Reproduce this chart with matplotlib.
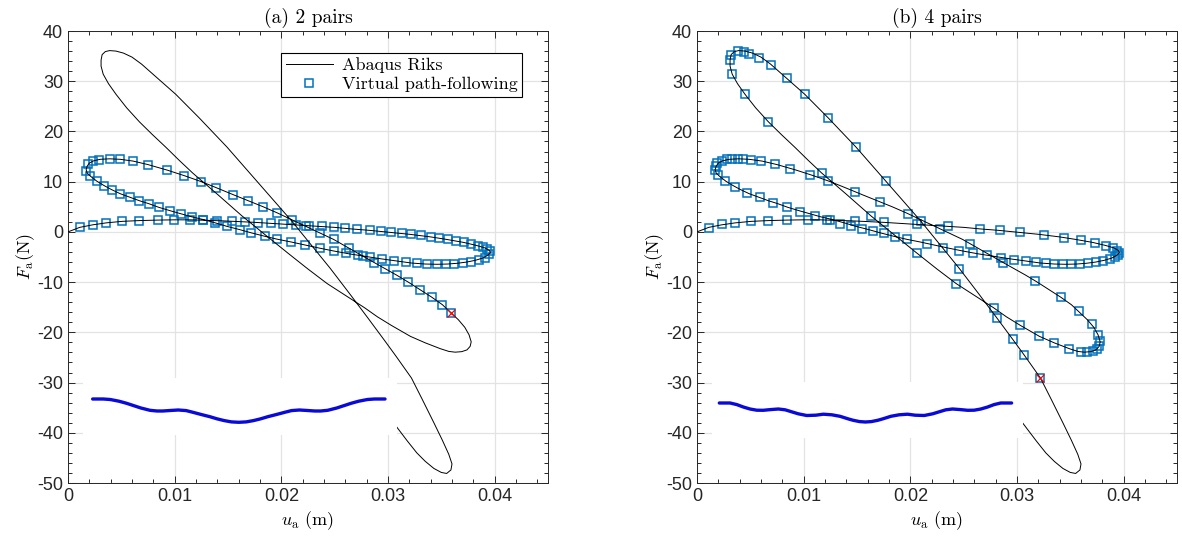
import matplotlib
matplotlib.use("Agg")
import matplotlib.pyplot as plt
from matplotlib.ticker import MultipleLocator

plt.rcParams['font.family'] = ['Liberation Sans', 'DejaVu Sans']
plt.rcParams['mathtext.fontset'] = 'cm'
plt.rcParams['axes.unicode_minus'] = False

# ---- data ----
# Abaqus Riks path (same reference curve in both panels), in path order
riks_u = [0, 0.0011, 0.0023, 0.0036, 0.0051, 0.0067, 0.0084, 0.0100, 0.0115, 0.0130, 0.0145, 0.0160,
          0.0175, 0.0190, 0.0205, 0.0220, 0.0235, 0.0250, 0.0265, 0.0283, 0.0302, 0.0321, 0.0340, 0.0355,
          0.0371, 0.0383, 0.0391, 0.0395, 0.0396, 0.0394, 0.0389, 0.0382, 0.0374, 0.0365, 0.0356, 0.0346,
          0.0335, 0.0322, 0.0308, 0.0293, 0.0278, 0.0263, 0.0249, 0.0235, 0.0222, 0.0209, 0.0196, 0.0185,
          0.0172, 0.0161, 0.0149, 0.0138, 0.0127, 0.0116, 0.0106, 0.0096, 0.0085, 0.0076, 0.0067, 0.0058,
          0.0049, 0.0041, 0.0034, 0.0027, 0.0021, 0.0018, 0.0017, 0.0018, 0.0020, 0.0024, 0.0030, 0.0039,
          0.0049, 0.0061, 0.0075, 0.0093, 0.0109, 0.0125, 0.0139, 0.0155, 0.0169, 0.0183, 0.0196, 0.0210,
          0.0223, 0.0236, 0.0249, 0.0263, 0.0277, 0.0287, 0.0297, 0.0308, 0.0319, 0.0330, 0.0341, 0.0351,
          0.0359, 0.0366, 0.0372, 0.0376, 0.0378, 0.0377, 0.0374, 0.0369, 0.0363, 0.0357, 0.0349, 0.0335,
          0.0321, 0.0303, 0.0290, 0.0278, 0.0262, 0.0243, 0.0225, 0.0206, 0.0185, 0.0163, 0.0140, 0.0117,
          0.0104, 0.0092, 0.0079, 0.0067, 0.0055, 0.0045, 0.0038, 0.0033, 0.0031, 0.0031, 0.0032, 0.0035,
          0.0039, 0.0045, 0.0052, 0.0060, 0.0069, 0.0084, 0.0101, 0.0123, 0.0149, 0.0177, 0.0210, 0.0246,
          0.0264, 0.0281, 0.0296, 0.0307, 0.0322, 0.0332, 0.0343, 0.0351, 0.0357, 0.0360, 0.0359, 0.0355,
          0.0350, 0.0343, 0.0335, 0.0327, 0.0318, 0.0308, 0.0298, 0.0288]
riks_F = [0.0, 0.9, 1.4, 1.8, 2.1, 2.25, 2.35, 2.4, 2.4, 2.3, 2.2, 2.05,
          1.9, 1.7, 1.5, 1.3, 1.1, 0.9, 0.6, 0.3, -0.1, -0.5, -1.0, -1.5,
          -2.1, -2.7, -3.2, -3.7, -4.1, -4.6, -5.2, -5.65, -6.0, -6.25, -6.4, -6.45,
          -6.4, -6.2, -5.8, -5.35, -4.85, -4.35, -3.8, -3.2, -2.6, -2.0, -1.45, -0.9,
          -0.2, 0.45, 1.1, 1.8, 2.45, 3.0, 3.6, 4.2, 4.9, 5.6, 6.2, 6.9,
          7.6, 8.4, 9.2, 10.1, 11.1, 11.7, 12.4, 13.1, 13.7, 14.15, 14.45, 14.55,
          14.45, 14.1, 13.4, 12.3, 11.2, 10.0, 8.8, 7.4, 6.2, 5.0, 3.8, 2.4,
          1.1, -0.2, -1.5, -3.2, -4.9, -6.1, -7.3, -8.6, -10.0, -11.5, -13.0, -14.5,
          -16.1, -17.5, -19.0, -20.5, -21.9, -22.8, -23.5, -23.85, -23.95, -23.8, -23.25, -22.1,
          -20.8, -18.6, -16.9, -15.1, -12.9, -10.3, -7.4, -4.2, -0.6, 3.2, 7.5, 11.7,
          14.3, 16.8, 19.4, 21.9, 24.7, 27.4, 29.5, 31.4, 33.0, 34.2, 35.3, 35.9,
          36.1, 36.0, 35.6, 34.8, 33.4, 30.6, 27.4, 22.7, 16.9, 10.1, 2.1, -7.3,
          -12.3, -17.1, -21.4, -24.6, -29.1, -33.3, -38.0, -41.5, -44.3, -46.2, -47.4, -48.1,
          -47.9, -47.1, -45.7, -44.0, -41.6, -38.8, -36.0, -33.5]

# virtual path-following points, (a) 2 pairs
virt_a_u = [0.0011, 0.0023, 0.0036, 0.0051, 0.0067, 0.0084, 0.0099, 0.0114, 0.0127, 0.0140, 0.0154, 0.0166,
            0.0178, 0.0190, 0.0202, 0.0214, 0.0226, 0.0238, 0.0249, 0.0260, 0.0271, 0.0283, 0.0293, 0.0303,
            0.0313, 0.0322, 0.0331, 0.0340, 0.0348, 0.0356, 0.0364, 0.0371, 0.0378, 0.0384, 0.0389, 0.0393,
            0.0396, 0.0395, 0.0391, 0.0385, 0.0378, 0.0370, 0.0362, 0.0354, 0.0346, 0.0337, 0.0327, 0.0317,
            0.0306, 0.0294, 0.0283, 0.0272, 0.0261, 0.0249, 0.0236, 0.0222, 0.0209, 0.0196, 0.0185, 0.0172,
            0.0161, 0.0149, 0.0138, 0.0127, 0.0116, 0.0106, 0.0096, 0.0085, 0.0076, 0.0067, 0.0058, 0.0049,
            0.0041, 0.0034, 0.0027, 0.0021, 0.0017, 0.0019, 0.0023, 0.0029, 0.0039, 0.0049, 0.0061, 0.0075,
            0.0093, 0.0109, 0.0125, 0.0139, 0.0155, 0.0169, 0.0183, 0.0196, 0.0210, 0.0223, 0.0236, 0.0249,
            0.0263, 0.0277, 0.0287, 0.0297, 0.0308, 0.0319, 0.0330, 0.0341, 0.0351, 0.0359]
virt_a_F = [0.9, 1.4, 1.8, 2.1, 2.25, 2.35, 2.4, 2.4, 2.3, 2.2, 2.1, 2.0,
            1.85, 1.7, 1.55, 1.4, 1.25, 1.1, 0.9, 0.7, 0.5, 0.3, 0.1, -0.1,
            -0.3, -0.5, -0.7, -1.0, -1.2, -1.5, -1.8, -2.1, -2.4, -2.75, -3.1, -3.4,
            -3.9, -4.5, -5.1, -5.55, -5.9, -6.15, -6.3, -6.4, -6.45, -6.4, -6.25, -6.0,
            -5.75, -5.4, -5.0, -4.65, -4.3, -3.8, -3.25, -2.6, -2.0, -1.45, -0.9, -0.2,
            0.45, 1.1, 1.8, 2.45, 3.0, 3.6, 4.2, 4.9, 5.6, 6.2, 6.9, 7.6,
            8.4, 9.2, 10.1, 11.1, 12.2, 13.5, 14.1, 14.4, 14.55, 14.45, 14.1, 13.4,
            12.3, 11.2, 10.0, 8.8, 7.4, 6.2, 5.0, 3.8, 2.4, 1.1, -0.2, -1.5,
            -3.2, -4.9, -6.1, -7.3, -8.6, -10.0, -11.5, -13.0, -14.5, -16.1]

# virtual path-following points, (b) 4 pairs
virt_b_u = [0.0011, 0.0023, 0.0036, 0.0051, 0.0067, 0.0084, 0.0104, 0.0125, 0.0148, 0.0175, 0.0206, 0.0235,
            0.0265, 0.0284, 0.0303, 0.0325, 0.0344, 0.0360, 0.0373, 0.0383, 0.0390, 0.0394, 0.0396, 0.0395,
            0.0392, 0.0387, 0.0381, 0.0374, 0.0367, 0.0359, 0.0351, 0.0343, 0.0335, 0.0327, 0.0318, 0.0308,
            0.0297, 0.0285, 0.0272, 0.0259, 0.0246, 0.0231, 0.0216, 0.0197, 0.0186, 0.0175, 0.0165, 0.0155,
            0.0144, 0.0134, 0.0122, 0.0111, 0.0097, 0.0084, 0.0071, 0.0059, 0.0047, 0.0036, 0.0026, 0.0020,
            0.0017, 0.0018, 0.0019, 0.0023, 0.0028, 0.0033, 0.0038, 0.0043, 0.0051, 0.0060, 0.0073, 0.0087,
            0.0106, 0.0123, 0.0148, 0.0172, 0.0198, 0.0228, 0.0256, 0.0287, 0.0317, 0.0341, 0.0358, 0.0370,
            0.0376, 0.0378, 0.0377, 0.0375, 0.0371, 0.0366, 0.0360, 0.0349, 0.0335, 0.0321, 0.0303, 0.0278,
            0.0243, 0.0206, 0.0163, 0.0117, 0.0067, 0.0045, 0.0033, 0.0031, 0.0032, 0.0038, 0.0044, 0.0049,
            0.0058, 0.0069, 0.0084, 0.0101, 0.0123, 0.0149, 0.0177, 0.0210, 0.0246, 0.0281, 0.0296, 0.0307,
            0.0322]
virt_b_F = [0.8, 1.5, 1.85, 2.1, 2.25, 2.35, 2.4, 2.3, 2.15, 1.9, 1.5, 1.1,
            0.6, 0.3, -0.1, -0.6, -1.15, -1.7, -2.3, -2.75, -3.25, -3.75, -4.2, -4.6,
            -5.0, -5.45, -5.75, -6.0, -6.2, -6.3, -6.4, -6.4, -6.3, -6.2, -6.05, -5.85,
            -5.5, -5.1, -4.7, -4.25, -3.75, -3.2, -2.5, -1.5, -0.95, -0.3, 0.15, 0.6,
            1.1, 1.65, 2.4, 3.1, 3.95, 4.9, 5.8, 6.85, 7.8, 8.9, 10.1, 11.4,
            12.4, 13.1, 13.7, 14.15, 14.45, 14.55, 14.55, 14.5, 14.4, 14.15, 13.5, 12.6,
            11.4, 10.1, 8.0, 5.95, 3.6, 0.5, -2.5, -6.2, -9.8, -13.0, -15.8, -18.4,
            -20.5, -21.8, -22.7, -23.3, -23.7, -23.9, -23.9, -23.25, -22.1, -20.8, -18.6, -15.1,
            -10.3, -4.2, 3.2, 11.7, 21.9, 27.5, 31.5, 34.2, 35.3, 36.0, 35.8, 35.5,
            34.6, 33.3, 30.6, 27.4, 22.7, 16.9, 10.1, 2.1, -7.3, -17.1, -21.4, -24.6,
            -29.1]

# deformed shapes shown in the insets (normalised length, deflection)
shape_a_x = [0.0, 0.036, 0.06, 0.09, 0.116, 0.14, 0.165, 0.196, 0.22, 0.24, 0.265, 0.293,
             0.32, 0.343, 0.37, 0.401, 0.425, 0.45, 0.475, 0.5, 0.525, 0.55, 0.575, 0.599,
             0.63, 0.657, 0.68, 0.707, 0.735, 0.76, 0.78, 0.804, 0.835, 0.86, 0.884, 0.91,
             0.94, 0.964, 1.0]
shape_a_w = [0.0, 0.0, -0.5, -2.2, -4.3, -6.6, -9.0, -11.3, -12.0, -12.0, -11.5, -11.0,
             -11.6, -13.3, -15.4, -17.7, -19.8, -21.6, -22.9, -23.3, -22.9, -21.6, -19.8, -17.7,
             -15.4, -13.3, -11.6, -11.0, -11.5, -12.0, -12.0, -11.3, -9.0, -6.6, -4.3, -2.2,
             -0.5, 0.0, 0.0]
shape_b_x = [0.0, 0.037, 0.06, 0.082, 0.105, 0.128, 0.15, 0.175, 0.202, 0.225, 0.242, 0.27,
             0.299, 0.33, 0.356, 0.385, 0.413, 0.44, 0.458, 0.48, 0.5, 0.52, 0.542, 0.56,
             0.587, 0.615, 0.644, 0.67, 0.701, 0.73, 0.758, 0.775, 0.798, 0.825, 0.85, 0.872,
             0.895, 0.918, 0.94, 0.963, 1.0]
shape_b_w = [0.0, 0.0, -1.6, -4.0, -6.0, -7.2, -7.3, -6.6, -6.0, -6.8, -8.3, -10.8,
             -12.5, -12.2, -11.2, -11.8, -13.3, -15.8, -17.3, -18.6, -19.0, -18.6, -17.3, -15.8,
             -13.3, -11.8, -11.2, -12.2, -12.5, -10.8, -8.3, -6.8, -6.0, -6.6, -7.3, -7.2,
             -6.0, -4.0, -1.6, 0.0, 0.0]

xtick_vals = [0, 0.01, 0.02, 0.03, 0.04]
xtick_labels = ['0', '0.01', '0.02', '0.03', '0.04']
ytick_vals = [40, 30, 20, 10, 0, -10, -20, -30, -40, -50]
ytick_labels = ['40', '30', '20', '10', '0', '-10', '-20', '-30', '-40', '-50']

titles = ['(a) 2 pairs', '(b) 4 pairs']

# ---- figure ----
W, H = 1182, 545
fig = plt.figure(figsize=(W / 100, H / 100), dpi=100)

ax_pos = [[68 / W, 62 / H, 480 / W, 452 / H],
          [697 / W, 62 / H, 480 / W, 452 / H]]
inset_pos = [[83 / W, 110 / H, 314 / W, 57 / H],
             [712 / W, 107 / H, 311 / W, 56 / H]]
inset_lims = [((-0.033, 1.041), (-36, 21)),
              ((-0.025, 1.039), (-35, 21))]

virt = [(virt_a_u, virt_a_F), (virt_b_u, virt_b_F)]
shapes = [(shape_a_x, shape_a_w), (shape_b_x, shape_b_w)]
axcol = '#262626'
mblue = '#0072BD'

for i in range(2):
    ax = fig.add_axes(ax_pos[i])
    ax.set_axisbelow(True)
    ax.grid(True, which='major', color='#e3e3e3', linewidth=0.9)
    ax.plot(riks_u, riks_F, color='black', linewidth=0.7, label='Abaqus Riks', zorder=3)
    vu, vF = virt[i]
    ax.plot(vu, vF, linestyle='none', marker='s', markersize=6.4, markerfacecolor='none',
            markeredgecolor=mblue, markeredgewidth=1.1, label='Virtual path-following', zorder=2)
    ax.plot(vu[-1], vF[-1], linestyle='none', marker='x', markersize=6, color='red',
            markeredgewidth=0.9, zorder=4)

    ax.set_xlim(0, 0.045)
    ax.set_ylim(-50, 40)
    ax.set_xticks(xtick_vals)
    ax.set_xticklabels(xtick_labels)
    ax.set_yticks(ytick_vals)
    ax.set_yticklabels(ytick_labels)
    ax.xaxis.set_minor_locator(MultipleLocator(0.002))
    ax.yaxis.set_minor_locator(MultipleLocator(2))
    ax.tick_params(which='both', direction='in', top=True, right=True, colors=axcol,
                   width=0.7, labelsize=13)
    ax.tick_params(which='major', length=5)
    ax.tick_params(which='minor', length=3)
    for s in ax.spines.values():
        s.set_color(axcol)
        s.set_linewidth(0.7)

    ax.set_title(titles[i], fontfamily='cmr10', fontsize=14, pad=6)
    ax.set_xlabel(r'$u_{\rm a}$ (m)', fontfamily='cmr10', fontsize=13, labelpad=3)
    ax.set_ylabel(r'$F_{\rm a}$(N)', fontfamily='cmr10', fontsize=13, labelpad=0)

    if i == 0:
        leg = ax.legend(loc='upper right', bbox_to_anchor=(0.946, 0.952), borderaxespad=0,
                        prop={'family': 'cmr10', 'size': 13}, fancybox=False, framealpha=1,
                        edgecolor='black', numpoints=1, handlelength=2.6, handletextpad=0.5,
                        borderpad=0.25, labelspacing=0.2)
        leg.get_frame().set_linewidth(0.8)

    ins = fig.add_axes(inset_pos[i])
    ins.set_facecolor('white')
    sx, sw = shapes[i]
    ins.plot(sx, sw, color='#0a0ad8', linewidth=2.4, solid_capstyle='round')
    ins.set_xlim(*inset_lims[i][0])
    ins.set_ylim(*inset_lims[i][1])
    ins.set_xticks([])
    ins.set_yticks([])
    for s in ins.spines.values():
        s.set_visible(False)

fig.savefig('out.png', dpi=100)
